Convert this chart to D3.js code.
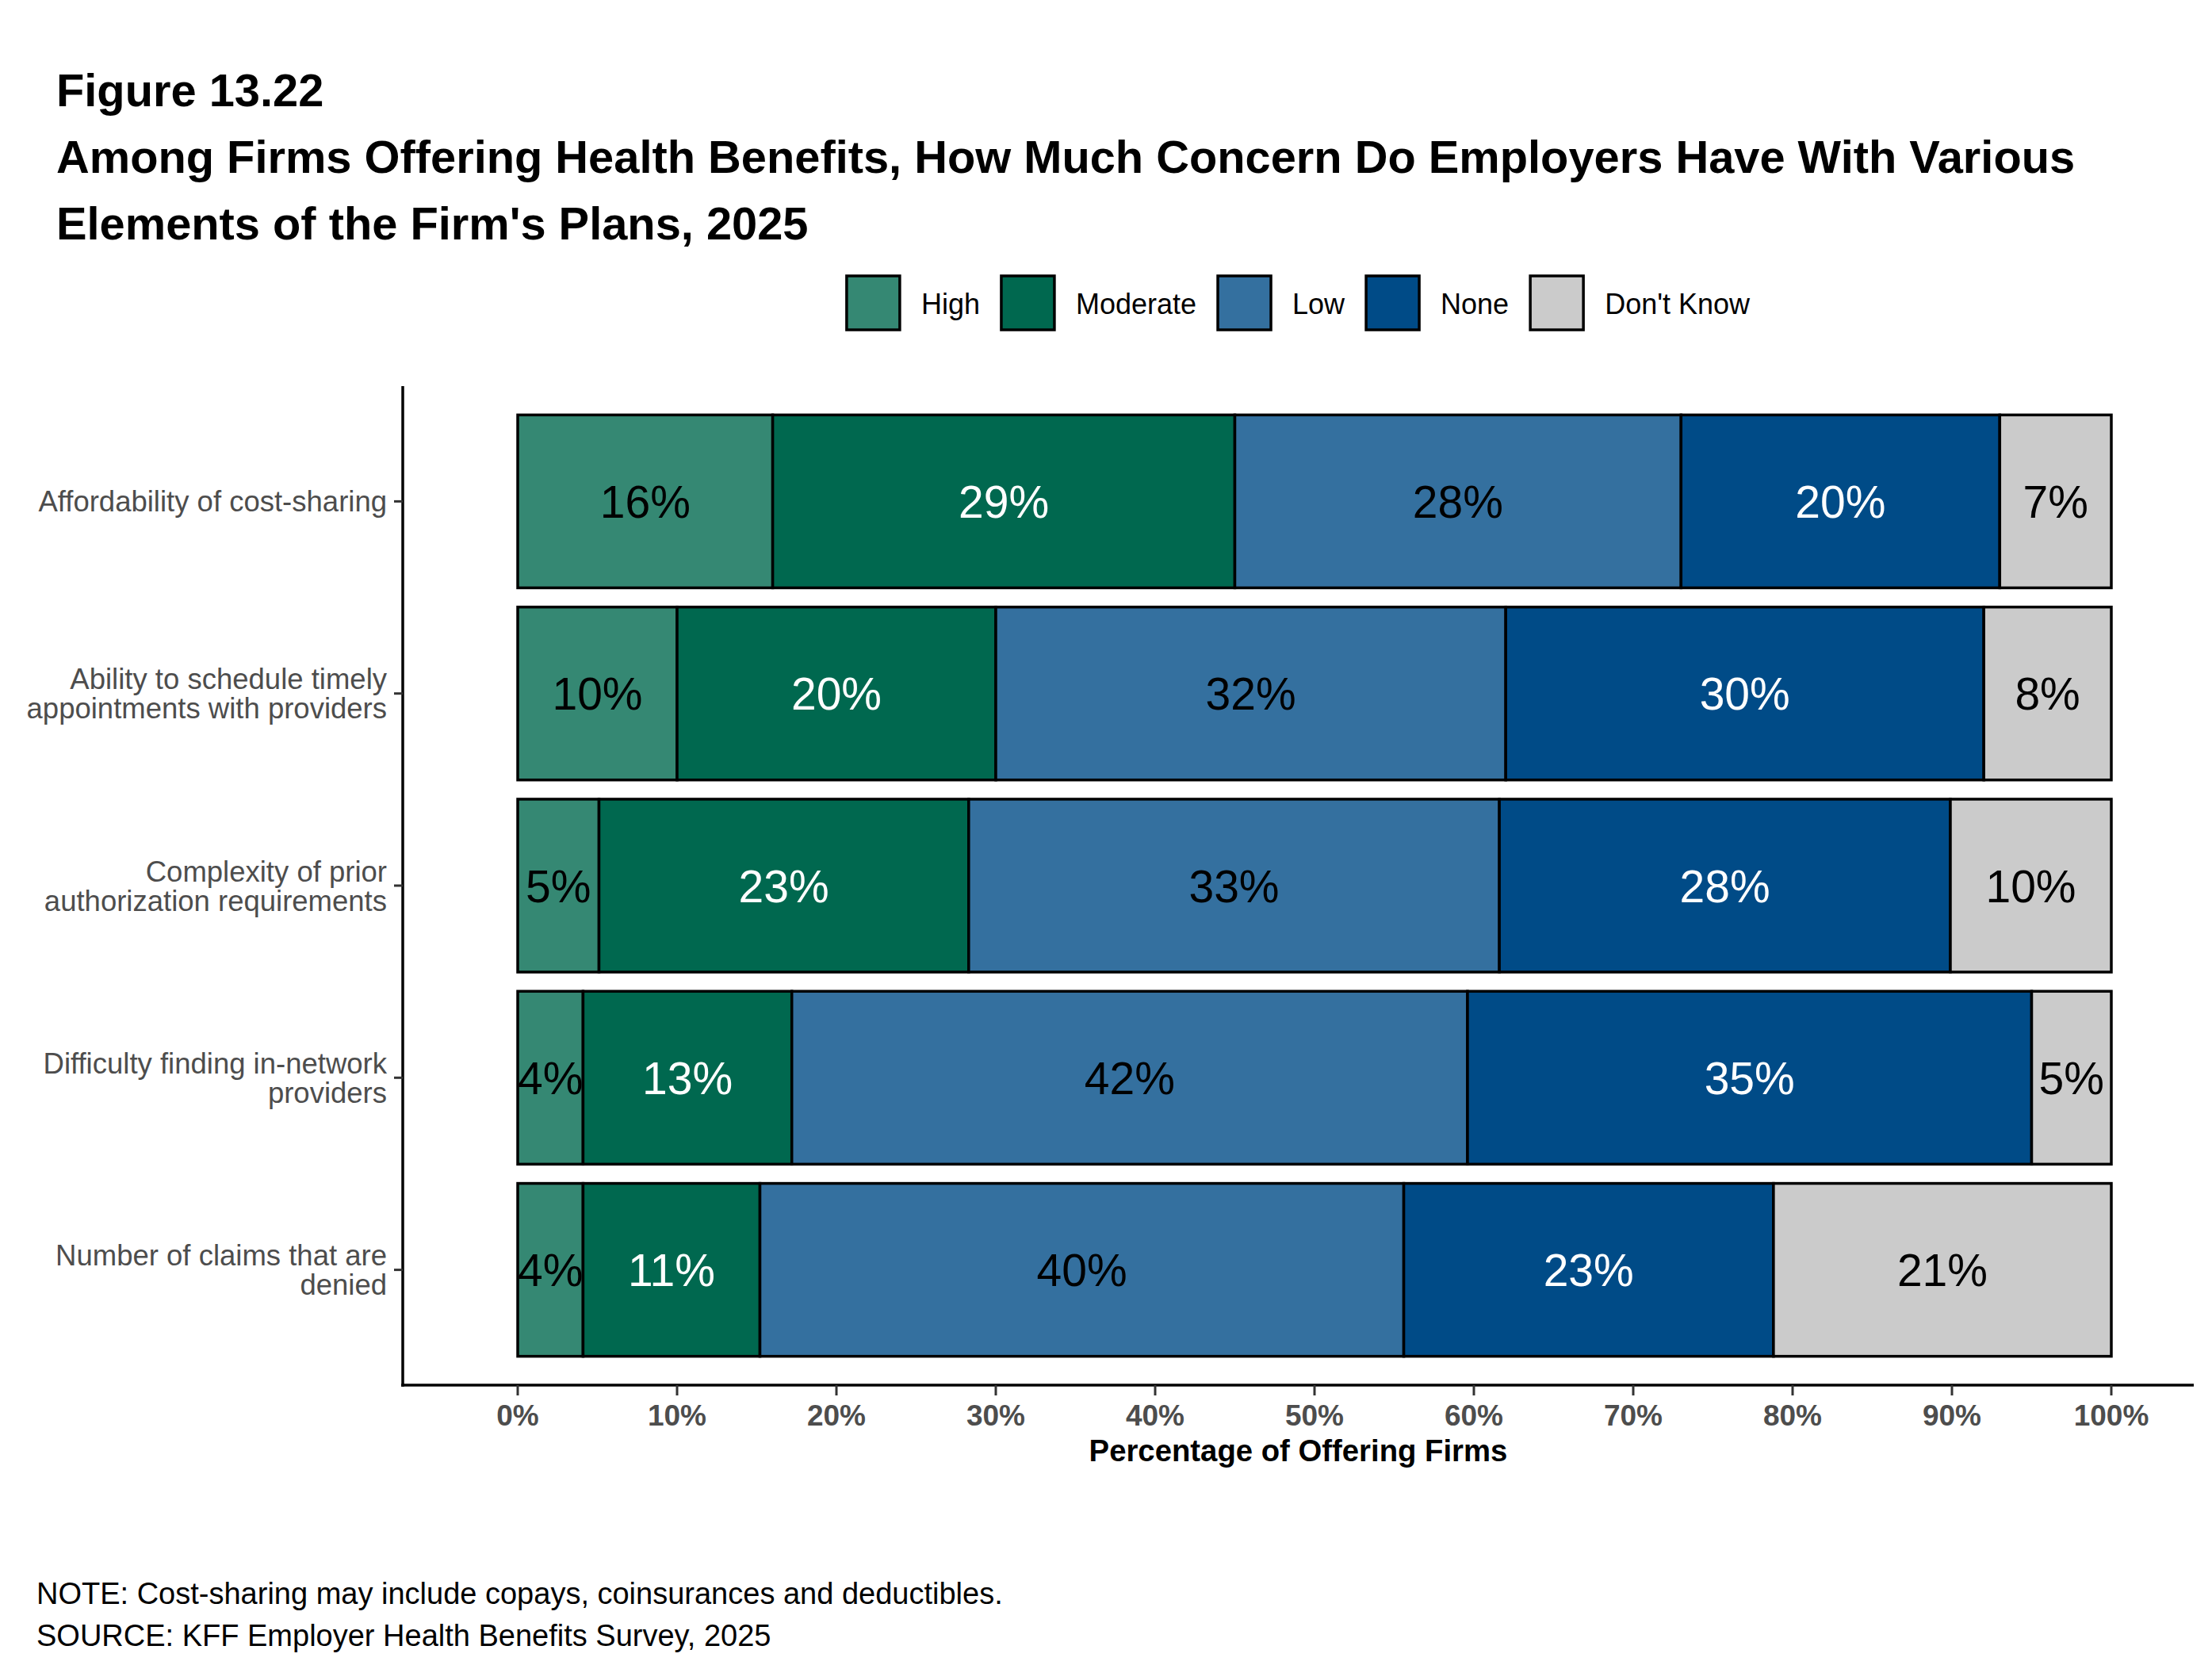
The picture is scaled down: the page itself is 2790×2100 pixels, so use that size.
<!DOCTYPE html>
<html>
<head>
<meta charset="utf-8">
<script src="https://cdn.jsdelivr.net/npm/d3@7"></script>
<style>
  body { margin: 0; background: #fff; }
  svg { display: block; font-family: "Liberation Sans", Arial, sans-serif; }
</style>
</head>
<body>
<svg id="chart"></svg>
<script>
// data
const categories = [
    "Affordability of cost-sharing",
    "Ability to schedule timely\nappointments with providers",
    "Complexity of prior\nauthorization requirements",
    "Difficulty finding in-network\nproviders",
    "Number of claims that are\ndenied"
];
const levels = ["High", "Moderate", "Low", "None", "Don't Know"];
const high     = [16, 10, 5.1, 4.1, 4.1];
const moderate = [29, 20, 23.2, 13.1, 11.1];
const low      = [28, 32, 33.3, 42.4, 40.4];
const none     = [20, 30, 28.3, 35.4, 23.2];
const dontKnow = [7, 8, 10.1, 5.0, 21.2];
const xTicks = [0, 10, 20, 30, 40, 50, 60, 70, 80, 90, 100];

const colors = ["#358873", "#00684f", "#34709f", "#004b87", "#cbcbcb"];
const labelColors = ["#000", "#fff", "#000", "#fff", "#000"];

const W = 2790, H = 2100;
const panel = {left: 508, right: 2767, top: 487, bottom: 1747};

let svg = d3.select('#chart').attr('width', W).attr('height', H);

let rows = categories.map((c, i) => ({
    cat: c,
    "High": high[i], "Moderate": moderate[i], "Low": low[i],
    "None": none[i], "Don't Know": dontKnow[i]
}));
let series = d3.stack().keys(levels)(rows);

let scX = d3.scaleLinear().domain([0, 100]).range([653, 2663]);
let scY = d3.scaleBand().domain(categories)
    .range([panel.top, panel.bottom])
    .paddingInner(0.1).paddingOuter(0.15);

// titles
let title = svg.append('text').attr('x', 71).attr('y', 134)
    .attr('font-size', 57.8).attr('font-weight', 'bold').attr('fill', '#000');
title.append('tspan').attr('x', 71).attr('y', 134).text('Figure 13.22');
title.append('tspan').attr('x', 71).attr('y', 218)
    .text('Among Firms Offering Health Benefits, How Much Concern Do Employers Have With Various');
title.append('tspan').attr('x', 71).attr('y', 302)
    .text("Elements of the Firm's Plans, 2025");

// legend
let legend = svg.append('g');
let lx = 0;
levels.forEach((lv, i) => {
    let g = legend.append('g').attr('transform', `translate(${lx},0)`);
    g.append('rect').attr('x', 0).attr('y', 348).attr('width', 67).attr('height', 68)
        .attr('fill', colors[i]).attr('stroke', '#000').attr('stroke-width', 3.5);
    let t = g.append('text').attr('x', 94).attr('y', 396)
        .attr('font-size', 36).attr('fill', '#000').text(lv);
    lx += 94 + t.node().getComputedTextLength() + 27;
});
let legW = lx - 27;
legend.attr('transform', `translate(${(panel.left + panel.right) / 2 - legW / 2},0)`);

// bars
let layer = svg.append('g').selectAll('g')
    .data(series).enter().append('g')
    .attr('fill', (d, i) => colors[i]);

layer.selectAll('rect')
    .data(d => d).enter().append('rect')
    .attr('x', d => scX(d[0]))
    .attr('y', d => scY(d.data.cat))
    .attr('width', d => scX(d[1]) - scX(d[0]))
    .attr('height', scY.bandwidth())
    .attr('stroke', '#000').attr('stroke-width', 3.5);

// bar labels
let labels = svg.append('g').selectAll('g')
    .data(series).enter().append('g')
    .attr('fill', (d, i) => labelColors[i]);

labels.selectAll('text')
    .data(d => d).enter().append('text')
    .attr('x', d => (scX(d[0]) + scX(d[1])) / 2)
    .attr('y', d => scY(d.data.cat) + scY.bandwidth() / 2)
    .attr('dy', '0.36em')
    .attr('text-anchor', 'middle')
    .attr('font-size', 57)
    .text(d => Math.round(d[1] - d[0]) + '%');

// y axis
svg.append('line')
    .attr('x1', panel.left).attr('x2', panel.left)
    .attr('y1', panel.top).attr('y2', panel.bottom + 2)
    .attr('stroke', '#000').attr('stroke-width', 3.5);

let yt = svg.append('g').selectAll('g')
    .data(categories).enter().append('g')
    .attr('transform', d => `translate(0,${scY(d) + scY.bandwidth() / 2})`);
yt.append('line').attr('x1', panel.left - 11).attr('x2', panel.left)
    .attr('stroke', '#333').attr('stroke-width', 3);
yt.each(function (d) {
    let parts = d.split('\n');
    let t = d3.select(this).append('text')
        .attr('text-anchor', 'end').attr('font-size', 36.5).attr('fill', '#4d4d4d');
    parts.forEach((p, k) => {
        t.append('tspan').attr('x', 488)
            .attr('y', (k - (parts.length - 1) / 2) * 37 + 13)
            .text(p);
    });
});

// x axis
svg.append('line')
    .attr('x1', panel.left - 2).attr('x2', panel.right)
    .attr('y1', panel.bottom).attr('y2', panel.bottom)
    .attr('stroke', '#000').attr('stroke-width', 3.5);

let xt = svg.append('g').selectAll('g')
    .data(xTicks).enter().append('g')
    .attr('transform', d => `translate(${scX(d)},0)`);
xt.append('line').attr('y1', panel.bottom).attr('y2', panel.bottom + 13)
    .attr('stroke', '#333').attr('stroke-width', 3);
xt.append('text').attr('y', 1798).attr('text-anchor', 'middle')
    .attr('font-size', 37).attr('font-weight', 'bold').attr('fill', '#4d4d4d')
    .text(d => d + '%');

svg.append('text')
    .attr('x', (panel.left + panel.right) / 2).attr('y', 1843)
    .attr('text-anchor', 'middle').attr('font-size', 38.3).attr('font-weight', 'bold')
    .attr('fill', '#000').text('Percentage of Offering Firms');

// notes
svg.append('text').attr('x', 46).attr('y', 2023).attr('font-size', 38).attr('fill', '#000')
    .text('NOTE: Cost-sharing may include copays, coinsurances and deductibles.');
svg.append('text').attr('x', 46).attr('y', 2076).attr('font-size', 38).attr('fill', '#000')
    .text('SOURCE: KFF Employer Health Benefits Survey, 2025');
</script>
</body>
</html>
